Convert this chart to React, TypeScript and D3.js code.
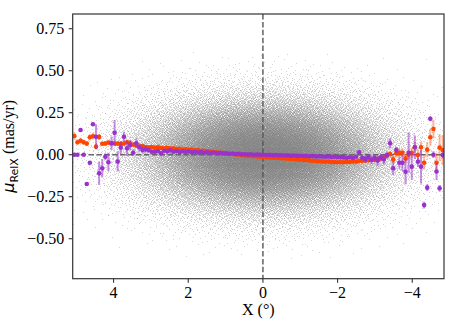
import React, { useMemo } from "react";
import * as d3 from "d3";

const W = 456;
const H = 326;
const PLOT = { left: 72.7, right: 444, top: 14, bottom: 278.7 };
const X_DOMAIN: [number, number] = [5.095, -4.85];
const Y_DOMAIN: [number, number] = [-0.738, 0.8375];
const X_TICKS = [4, 2, 0, -2, -4];
const Y_TICKS = [0.75, 0.5, 0.25, 0, -0.25, -0.5];

// bin centres of the binned profiles (degrees)
const BIN_FIRST = 5.05;
const BIN_STEP = 0.0829;

const ORANGE_MU = [
  0.111, 0.074, 0.083, 0.074, 0.066, 0.104, 0.11, 0.048, 0.106, 0.065,
  0.066, 0.072, 0.068, 0.066, 0.066, 0.063, 0.066, 0.074, 0.068, 0.06,
  0.056, 0.048, 0.051, 0.046, 0.044, 0.046, 0.042, 0.044, 0.04, 0.038,
  0.041, 0.036, 0.038, 0.033, 0.035, 0.031, 0.033, 0.028, 0.03, 0.026,
  0.027, 0.023, 0.024, 0.02, 0.019, 0.016, 0.015, 0.012, 0.011, 0.008,
  0.006, 0.004, 0.002, 0.0, -0.002, -0.004, -0.006, -0.008, -0.009, -0.011,
  -0.012, -0.013, -0.015, -0.016, -0.018, -0.018, -0.02, -0.021, -0.023, -0.024,
  -0.025, -0.027, -0.028, -0.03, -0.031, -0.032, -0.034, -0.036, -0.037, -0.039,
  -0.04, -0.042, -0.041, -0.044, -0.043, -0.045, -0.043, -0.045, -0.042, -0.043,
  -0.04, -0.041, -0.037, -0.036, -0.034, -0.033, -0.03, -0.031, -0.026, -0.022,
  -0.016, -0.006, 0.004, -0.028, 0.008, 0.012, 0.012, -0.022, 0.0, 0.012,
  0.044, -0.002, 0.044, -0.048, 0.03, 0.104, 0.153, -0.048, 0.042, 0.028,
];
const ORANGE_ERR = [
  0.022, 0.018, 0.018, 0.016, 0.016, 0.02, 0.02, 0.016, 0.018, 0.014,
  0.014, 0.013, 0.013, 0.012, 0.012, 0.011, 0.011, 0.011, 0.01, 0.01,
  0.009, 0.009, 0.009, 0.008, 0.008, 0.008, 0.007, 0.007, 0.007, 0.006,
  0.006, 0.006, 0.006, 0.006, 0.006, 0.006, 0.006, 0.006, 0.006, 0.006,
  0.005, 0.005, 0.005, 0.005, 0.005, 0.005, 0.005, 0.005, 0.005, 0.005,
  0.005, 0.005, 0.005, 0.005, 0.005, 0.005, 0.005, 0.005, 0.005, 0.005,
  0.005, 0.005, 0.005, 0.005, 0.005, 0.005, 0.005, 0.005, 0.005, 0.005,
  0.005, 0.005, 0.005, 0.005, 0.005, 0.005, 0.005, 0.005, 0.005, 0.005,
  0.005, 0.005, 0.005, 0.005, 0.005, 0.005, 0.006, 0.006, 0.006, 0.007,
  0.007, 0.008, 0.008, 0.009, 0.01, 0.01, 0.011, 0.011, 0.012, 0.012,
  0.012, 0.015, 0.02, 0.02, 0.022, 0.025, 0.025, 0.028, 0.03, 0.03,
  0.032, 0.035, 0.035, 0.04, 0.045, 0.05, 0.055, 0.06, 0.08, 0.09,
];
const PURPLE_MU = [
  0.0, 0.0, 0.147, 0.0, -0.174, -0.048, 0.181, 0.107, -0.111, -0.081,
  -0.012, -0.045, 0.068, 0.131, -0.04, 0.042, 0.107, 0.038, 0.058, 0.012,
  0.068, 0.044, 0.028, 0.032, 0.028, 0.018, 0.018, 0.022, 0.008, 0.024,
  0.02, 0.026, 0.018, 0.022, 0.015, 0.021, 0.017, 0.02, 0.014, 0.018,
  0.013, 0.016, 0.012, 0.015, 0.01, 0.013, 0.009, 0.011, 0.007, 0.009,
  0.005, 0.007, 0.004, 0.005, 0.002, 0.003, 0.001, 0.002, 0.0, 0.001,
  -0.001, 0.0, -0.002, -0.001, -0.003, -0.002, -0.004, -0.003, -0.005, -0.004,
  -0.006, -0.005, -0.007, -0.006, -0.008, -0.007, -0.009, -0.008, -0.01, -0.009,
  -0.011, -0.012, -0.01, -0.013, -0.012, -0.015, -0.013, -0.016, -0.018, -0.015,
  -0.02, -0.012, 0.014, -0.018, -0.025, -0.012, -0.03, -0.018, -0.035, -0.015,
  -0.028, -0.002, 0.068, -0.081, 0.028, -0.048, -0.048, -0.101, 0.012, -0.071,
  0.044, -0.042, -0.071, -0.3, -0.196, 0.214, 0.0, -0.1, -0.2, -0.002,
];
const PURPLE_ERR = [
  0, 0, 0.008, 0, 0.008, 0.01, 0.01, 0.075, 0.07, 0.055,
  0.02, 0.055, 0.04, 0.075, 0.06, 0.04, 0.03, 0.045, 0.03, 0.02,
  0.03, 0.025, 0.02, 0.02, 0.015, 0.015, 0.012, 0.012, 0.01, 0.008,
  0.008, 0.008, 0.008, 0.008, 0.008, 0.008, 0.008, 0.008, 0.008, 0.008,
  0.005, 0.005, 0.005, 0.005, 0.005, 0.005, 0.005, 0.005, 0.005, 0.005,
  0.005, 0.005, 0.005, 0.005, 0.005, 0.005, 0.005, 0.005, 0.005, 0.005,
  0.005, 0.005, 0.005, 0.005, 0.005, 0.005, 0.005, 0.005, 0.005, 0.005,
  0.005, 0.005, 0.005, 0.005, 0.005, 0.005, 0.005, 0.005, 0.005, 0.005,
  0.005, 0.005, 0.005, 0.005, 0.005, 0.005, 0.008, 0.008, 0.008, 0.008,
  0.008, 0.008, 0.012, 0.015, 0.02, 0.015, 0.025, 0.02, 0.03, 0.02,
  0.03, 0.02, 0.03, 0.04, 0.02, 0.035, 0.05, 0.075, 0.12, 0.08,
  0.07, 0.03, 0.1, 0.02, 0.02, 0.015, 0.02, 0.05, 0.02, 0.02,
];

// background star cloud: spread and outer extent
const CLOUD_COUNT = 78000;
const CLOUD_SIGMA_X = 1.6;
const CLOUD_SIGMA_Y = 0.16;
const CLOUD_MAX_ABS_Y = 0.62;
const CLOUD_LAYERS = 16;

const ORANGE = "#FF4500";
const PURPLE = "#9932CC";
const SERIF = "'Liberation Serif', 'Times New Roman', Times, 'DejaVu Serif', 'Noto Serif', serif";
const MATH_SANS = "'DejaVu Sans', 'Noto Sans', sans-serif";

function halton(i: number, b: number) {
  let f = 1;
  let r = 0;
  while (i > 0) {
    f /= b;
    r += f * (i % b);
    i = Math.floor(i / b);
  }
  return r;
}

function invNorm(p: number) {
  const a = [-3.969683028665376e1, 2.209460984245205e2, -2.759285104469687e2, 1.38357751867269e2, -3.066479806614716e1, 2.506628277459239];
  const b = [-5.447609879822406e1, 1.615858368580409e2, -1.556989798598866e2, 6.680131188771972e1, -1.328068155288572e1];
  const c = [-7.784894002430293e-3, -3.223964580411365e-1, -2.400758277161838, -2.549732539343734, 4.374664141464968, 2.938163982698783];
  const d = [7.784695709041462e-3, 3.224671290700398e-1, 2.445134137142996, 3.754408661907416];
  const pl = 0.02425;
  if (p < pl) {
    const q = Math.sqrt(-2 * Math.log(p));
    return (((((c[0] * q + c[1]) * q + c[2]) * q + c[3]) * q + c[4]) * q + c[5]) / ((((d[0] * q + d[1]) * q + d[2]) * q + d[3]) * q + 1);
  }
  if (p > 1 - pl) {
    const q = Math.sqrt(-2 * Math.log(1 - p));
    return -(((((c[0] * q + c[1]) * q + c[2]) * q + c[3]) * q + c[4]) * q + c[5]) / ((((d[0] * q + d[1]) * q + d[2]) * q + d[3]) * q + 1);
  }
  const q = p - 0.5;
  const r = q * q;
  return ((((((a[0] * r + a[1]) * r + a[2]) * r + a[3]) * r + a[4]) * r + a[5]) * q) / (((((b[0] * r + b[1]) * r + b[2]) * r + b[3]) * r + b[4]) * r + 1);
}

export default function App() {
  const x = d3.scaleLinear().domain(X_DOMAIN).range([PLOT.left, PLOT.right]);
  const y = d3.scaleLinear().domain(Y_DOMAIN).range([PLOT.bottom, PLOT.top]);
  const bins = ORANGE_MU.map((_, i) => BIN_FIRST - i * BIN_STEP);

  const cloudPaths = useMemo(() => {
    const parts: string[][] = Array.from({ length: CLOUD_LAYERS }, () => []);
    for (let i = 1; i <= CLOUD_COUNT; i++) {
      const gx = invNorm(halton(i, 2)) * CLOUD_SIGMA_X;
      const gy = invNorm(halton(i, 3)) * CLOUD_SIGMA_Y;
      if (!isFinite(gx) || !isFinite(gy) || Math.abs(gy) > CLOUD_MAX_ABS_Y) continue;
      const px = Math.round(x(gx));
      const py = Math.round(y(gy));
      if (!(px >= PLOT.left && px <= PLOT.right - 1 && py >= PLOT.top && py <= PLOT.bottom - 1)) continue;
      const layer = Math.floor(((i - 1) * CLOUD_LAYERS) / CLOUD_COUNT);
      parts[layer].push(`M${px} ${py}h1v1h-1z`);
    }
    return parts.map((p) => p.join(""));
  }, []);

  const series = [
    { mu: ORANGE_MU, err: ORANGE_ERR, color: ORANGE, errOpacity: 0.4 },
    { mu: PURPLE_MU, err: PURPLE_ERR, color: PURPLE, errOpacity: 0.55 },
  ];

  return (
    <svg width={W} height={H} style={{ position: "fixed", left: 0, top: 0, background: "#fff" }}>
      <defs>
        <clipPath id="plotclip">
          <rect x={PLOT.left} y={PLOT.top} width={PLOT.right - PLOT.left} height={PLOT.bottom - PLOT.top} />
        </clipPath>
      </defs>
      <g clipPath="url(#plotclip)">
        {cloudPaths.map((d, k) => (
          <path key={k} d={d} fill="#7f7f7f" fillOpacity={0.33} shapeRendering="crispEdges" />
        ))}
        <line x1={PLOT.left} x2={PLOT.right} y1={y(0)} y2={y(0)} stroke="#666" strokeWidth={1.4} strokeDasharray="5.5,2.4" />
        <line x1={x(0)} x2={x(0)} y1={PLOT.top} y2={PLOT.bottom} stroke="#555" strokeWidth={1.4} strokeDasharray="5.5,2.4" />
        {series.map((s, si) => (
          <g key={si}>
            {s.mu.map((m, i) =>
              s.err[i] > 0 ? (
                <line key={"e" + i} x1={x(bins[i])} x2={x(bins[i])} y1={y(m - s.err[i])} y2={y(m + s.err[i])}
                  stroke={s.color} strokeOpacity={s.errOpacity} strokeWidth={2} />
              ) : null
            )}
            {s.mu.map((m, i) => (
              <circle key={"p" + i} cx={x(bins[i])} cy={y(m)} r={2.3} fill={s.color} />
            ))}
          </g>
        ))}
      </g>
      <rect x={PLOT.left} y={PLOT.top} width={PLOT.right - PLOT.left} height={PLOT.bottom - PLOT.top}
        fill="none" stroke="#333" strokeWidth={1.2} />
      {X_TICKS.map((t) => (
        <g key={"xt" + t}>
          <line x1={x(t)} x2={x(t)} y1={PLOT.bottom} y2={PLOT.bottom + 4} stroke="#333" strokeWidth={1.1} />
          <text x={x(t)} y={PLOT.bottom + 19} textAnchor="middle" style={{ fontFamily: SERIF, fontSize: 16 }} fill="#000">
            {t < 0 ? "\u2212" + Math.abs(t) : String(t)}
          </text>
        </g>
      ))}
      {Y_TICKS.map((t) => (
        <g key={"yt" + t}>
          <line x1={PLOT.left - 4} x2={PLOT.left} y1={y(t)} y2={y(t)} stroke="#333" strokeWidth={1.1} />
          <text x={PLOT.left - 8.5} y={y(t)} dy="0.35em" textAnchor="end" style={{ fontFamily: SERIF, fontSize: 16 }} fill="#000">
            {t < 0 ? "\u2212" + Math.abs(t).toFixed(2) : t.toFixed(2)}
          </text>
        </g>
      ))}
      <text x={(PLOT.left + PLOT.right) / 2} y={315} textAnchor="middle" style={{ fontFamily: SERIF, fontSize: 16 }} fill="#000">
        X (°)
      </text>
      <text transform={`translate(14,${(PLOT.top + PLOT.bottom) / 2}) rotate(-90)`} textAnchor="middle" fill="#000" style={{ fontSize: 16 }}>
        <tspan style={{ fontFamily: MATH_SANS, fontStyle: "italic" }}>μ</tspan>
        <tspan style={{ fontFamily: MATH_SANS, fontSize: 11 }} dy={3.5}>RelX</tspan>
        <tspan style={{ fontFamily: SERIF }} dy={-3.5}> (mas/yr)</tspan>
      </text>
    </svg>
  );
}
